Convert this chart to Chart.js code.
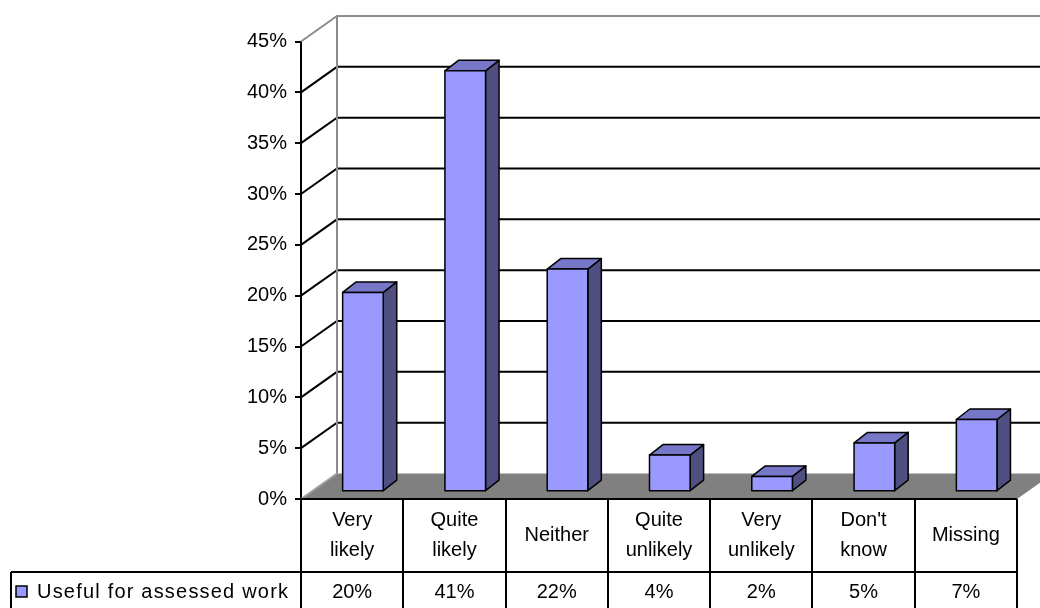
<!DOCTYPE html>
<html>
<head>
<meta charset="utf-8">
<script src="https://cdn.jsdelivr.net/npm/chart.js@4.4.1/dist/chart.umd.min.js"></script>
<style>
  html, body { margin: 0; padding: 0; background: #fff; }
  #wrap { width: 1040px; height: 608px; }
</style>
</head>
<body>
<div id="wrap"><canvas id="chart" width="1040" height="608"></canvas></div>
<script>
const categories = [
	['Very', 'likely'],
	['Quite', 'likely'],
	['Neither'],
	['Quite', 'unlikely'],
	['Very', 'unlikely'],
	["Don't", 'know'],
	['Missing'],
];
const seriesName = 'Useful for assessed work';
const usefulValues = [0.196, 0.414, 0.219, 0.036, 0.015, 0.048, 0.071];
const yMin = 0;
const yMax = 0.45;
const yStep = 0.05;

const FONT = '"Liberation Sans", Arial, sans-serif';
const pct = (v) => Math.round(v * 100) + '%';

// depth of the 3d box and where the bars sit inside it
const DX = 36, DY = -25.5;
const SX = 10.8, SY = -7.3;
const BX = 13.5, BY = -10.5;

const excel3d = {
	id: 'excel3d',
	beforeDatasetsDraw(chart) {
		const { ctx, chartArea: a, scales: { y } } = chart;
		const y0 = y.getPixelForValue(0);
		const far = chart.width + 60;
		ctx.save();

		// floor
		ctx.fillStyle = '#808080';
		ctx.beginPath();
		ctx.moveTo(a.left, y0);
		ctx.lineTo(a.right, y0);
		ctx.lineTo(a.right + DX, y0 + DY);
		ctx.lineTo(a.left + DX, y0 + DY);
		ctx.closePath();
		ctx.fill();

		// side wall + back wall gridlines
		ctx.lineWidth = 2;
		y.ticks.forEach((t) => {
			const yy = y.getPixelForValue(t.value);
			if (t.value < 1e-6) {
				ctx.strokeStyle = '#a0a0a0';
				ctx.beginPath();
				ctx.moveTo(a.left, yy);
				ctx.lineTo(a.left + DX, yy + DY);
				ctx.stroke();
				return;
			}
			ctx.strokeStyle = t.value >= yMax - 1e-6 ? '#8c8c8c' : '#000';
			ctx.beginPath();
			ctx.moveTo(a.left, yy);
			ctx.lineTo(a.left + DX, yy + DY);
			ctx.lineTo(far, yy + DY);
			ctx.stroke();
		});

		// back wall corner
		ctx.strokeStyle = '#8c8c8c';
		ctx.beginPath();
		ctx.moveTo(a.left + DX, y.getPixelForValue(yMax) + DY);
		ctx.lineTo(a.left + DX, y0 + DY);
		ctx.stroke();
		ctx.restore();
	},
	afterDatasetsDraw(chart) {
		const { ctx } = chart;
		const meta = chart.getDatasetMeta(0);
		ctx.save();
		ctx.lineWidth = 1.5;
		ctx.strokeStyle = '#000';
		ctx.lineJoin = 'round';
		meta.data.forEach((bar) => {
			const { x, y, base, width } = bar.getProps(['x', 'y', 'base', 'width'], true);
			const l = x - width / 2 + SX;
			const r = l + width;
			const t = y + SY;
			const b = base + SY;

			// side
			ctx.fillStyle = '#4f4f82';
			ctx.beginPath();
			ctx.moveTo(r, t);
			ctx.lineTo(r + BX, t + BY);
			ctx.lineTo(r + BX, b + BY);
			ctx.lineTo(r, b);
			ctx.closePath();
			ctx.fill();
			ctx.stroke();

			// top
			ctx.fillStyle = '#7777c8';
			ctx.beginPath();
			ctx.moveTo(l, t);
			ctx.lineTo(l + BX, t + BY);
			ctx.lineTo(r + BX, t + BY);
			ctx.lineTo(r, t);
			ctx.closePath();
			ctx.fill();
			ctx.stroke();

			// front
			ctx.fillStyle = '#9999ff';
			ctx.fillRect(l, t, width, b - t);
			ctx.strokeRect(l, t, width, b - t);
		});
		ctx.restore();
	},
	afterDraw(chart) {
		const { ctx, chartArea: a, scales: { x, y } } = chart;
		const y0 = y.getPixelForValue(0);
		const step = x.getPixelForValue(1) - x.getPixelForValue(0);
		const rowY = 572;
		const legendLeft = 11;
		ctx.save();
		ctx.strokeStyle = '#000';
		ctx.lineWidth = 2;

		ctx.beginPath();
		ctx.moveTo(a.left, y0);
		ctx.lineTo(a.right, y0);
		ctx.moveTo(legendLeft, rowY);
		ctx.lineTo(a.right, rowY);
		ctx.moveTo(legendLeft, rowY);
		ctx.lineTo(legendLeft, chart.height + 2);
		for (let i = 0; i <= categories.length; i++) {
			const xx = Math.round(x.getPixelForValue(0) - step / 2 + i * step);
			ctx.moveTo(xx, y0);
			ctx.lineTo(xx, chart.height + 2);
		}
		ctx.stroke();

		ctx.fillStyle = '#000';
		ctx.font = '20px ' + FONT;
		ctx.textAlign = 'center';
		ctx.textBaseline = 'middle';
		categories.forEach((lines, i) => {
			const cx = x.getPixelForValue(i);
			const mid = (y0 + rowY) / 2;
			lines.forEach((txt, k) => {
				const yy = mid + (k - (lines.length - 1) / 2) * 30;
				ctx.fillText(txt, cx, yy);
			});
			ctx.fillText(pct(usefulValues[i]), cx, 592);
		});

		// legend key
		ctx.fillStyle = '#9999ff';
		ctx.fillRect(16, 586, 11, 11);
		ctx.lineWidth = 1.5;
		ctx.strokeRect(16, 586, 11, 11);
		ctx.fillStyle = '#000';
		ctx.textAlign = 'left';
		ctx.letterSpacing = '1.2px';
		ctx.fillText(seriesName, 37, 592);
		ctx.restore();
	},
};

new Chart(document.getElementById('chart'), {
	type: 'bar',
	data: {
		labels: categories,
		datasets: [
			{
				label: seriesName,
				data: usefulValues,
				backgroundColor: 'rgba(0,0,0,0)',
				borderWidth: 0,
				barPercentage: 0.397,
				categoryPercentage: 1,
			},
		],
	},
	options: {
		responsive: false,
		animation: false,
		events: [],
		layout: { padding: { left: 0, top: 41.5, right: 23, bottom: 109 } },
		plugins: { legend: { display: false }, tooltip: { enabled: false } },
		scales: {
			x: { display: false, offset: true },
			y: {
				min: yMin,
				max: yMax,
				afterFit: (scale) => {
					scale.width = 301;
				},
				ticks: {
					stepSize: yStep,
					color: '#000',
					padding: 8,
					font: { family: FONT, size: 20 },
					callback: (v) => pct(v),
				},
				grid: {
					drawOnChartArea: false,
					drawTicks: true,
					tickLength: 6,
					color: '#000',
					lineWidth: 2,
				},
				border: { display: true, color: '#000', width: 2 },
			},
		},
	},
	plugins: [excel3d],
});
</script>
</body>
</html>
